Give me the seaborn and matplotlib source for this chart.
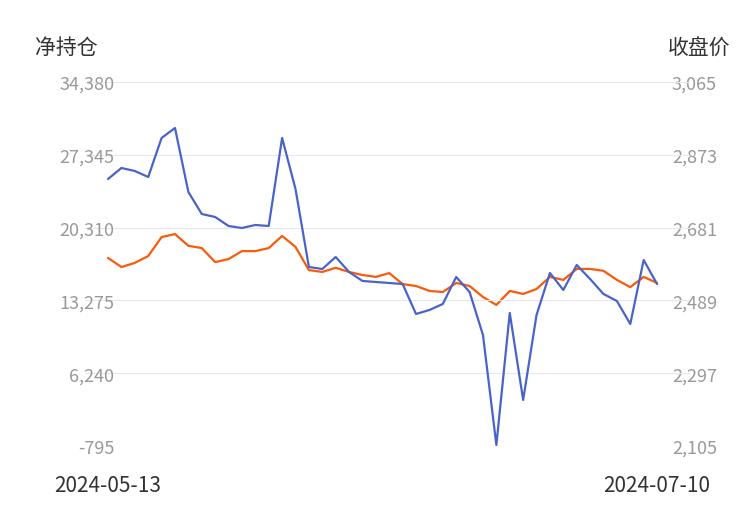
import matplotlib
matplotlib.use("Agg")
import matplotlib.pyplot as plt
import seaborn as sns
import pandas as pd
import numpy as np

dates = pd.bdate_range("2024-05-13", "2024-07-10")
dates = [d for d in dates if d.strftime("%Y-%m-%d") != "2024-06-10"]
net_pos = [25007, 26070, 25780, 25200, 28969, 29935, 23751, 21625, 21335, 20465,
           20272, 20562, 20465, 28969, 24041, 16503, 16310, 17470, 16020, 15151,
           15054, 14957, 14861, 11962, 12348, 12928, 15537, 14088, 9933, -697,
           12058, 3652, 11865, 15924, 14281, 16697, 15344, 13894, 13218, 10996,
           17180, 14861]
close = [2601, 2577, 2588, 2606, 2656, 2664, 2633, 2627, 2590, 2598,
         2619, 2619, 2627, 2659, 2630, 2569, 2564, 2575, 2564, 2556,
         2551, 2561, 2532, 2527, 2514, 2511, 2535, 2527, 2498, 2477,
         2514, 2506, 2519, 2551, 2543, 2572, 2572, 2567, 2543, 2524,
         2551, 2535]
left_ticks = [-795, 6240, 13275, 20310, 27345, 34380]
right_ticks = [2105, 2297, 2489, 2681, 2873, 3065]

sns.set_style("white")
plt.rcParams['font.family'] = ['Noto Sans CJK SC', 'DejaVu Sans']
df = pd.DataFrame({"i": np.arange(len(net_pos)), "net": net_pos, "close": close})

fig = plt.figure(figsize=(7.5, 5.1), dpi=100)
ax = fig.add_axes([85/750, 1-447/510, 605/750, 364/510])
ax2 = ax.twinx()
ax.set_zorder(ax2.get_zorder() + 1); ax.patch.set_visible(False)
sns.lineplot(data=df, x="i", y="net", ax=ax, color="#4a63c8", linewidth=1.6)
sns.lineplot(data=df, x="i", y="close", ax=ax2, color="#fa5a0a", linewidth=1.6)
n = len(net_pos)
ax.set_xlim(-1.72, n - 1 + 2.46)
ax.set_ylim(left_ticks[0], left_ticks[-1])
ax2.set_ylim(right_ticks[0], right_ticks[-1])
ax.set_yticks(left_ticks, [f"{v:,}" for v in left_ticks])
ax2.set_yticks(right_ticks, [f"{v:,}" for v in right_ticks])
ax.grid(axis="y", color="#e6e8ee", linewidth=0.8)
for a in (ax, ax2):
    for s in a.spines.values():
        s.set_visible(False)
    a.tick_params(axis="y", length=0, labelsize=13, colors="#999999")
    a.set_xlabel(""); a.set_ylabel("")
ax.tick_params(axis="y", pad=-21)
ax2.tick_params(axis="y", pad=-13)
ax.set_xticks([0, n - 1], [dates[0].strftime("%Y-%m-%d"), dates[-1].strftime("%Y-%m-%d")])
ax.tick_params(axis="x", length=0, labelsize=15, colors="#333333", pad=20)
fig.text(35/750, 1-48/510, "净持仓", fontsize=15, color="#333333", va="center")
fig.text(730/750, 1-48/510, "收盘价", fontsize=15, color="#333333", va="center", ha="right")
fig.savefig("out.png", dpi=100)
